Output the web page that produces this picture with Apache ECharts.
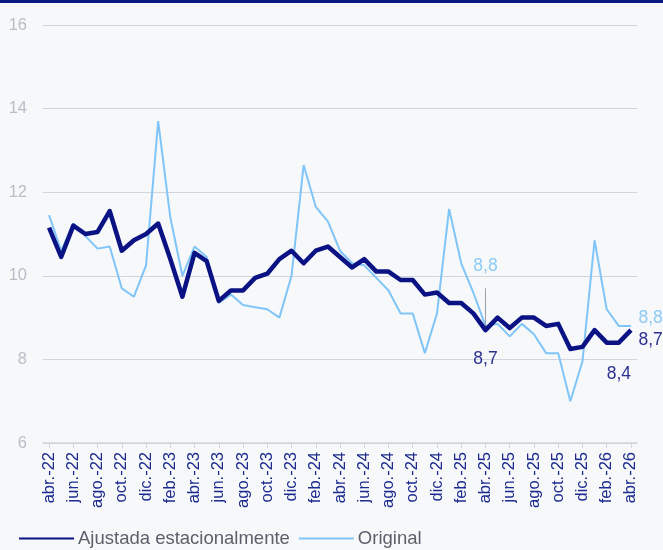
<!DOCTYPE html>
<html>
<head>
<meta charset="utf-8">
<script src="https://cdn.jsdelivr.net/npm/echarts@6/dist/echarts.min.js"></script>
<style>
  html, body { margin: 0; padding: 0; background: #f6f8fa; }
  #chart { width: 663px; height: 550px; }
</style>
</head>
<body>
<div id="chart"></div>
<script>
// meses (abr.-22 .. abr.-26)
const months = [
  "abr.-22", "may.-22", "jun.-22", "jul.-22", "ago.-22", "sep.-22", "oct.-22", "nov.-22", "dic.-22",
  "ene.-23", "feb.-23", "mar.-23", "abr.-23", "may.-23", "jun.-23", "jul.-23", "ago.-23", "sep.-23", "oct.-23", "nov.-23", "dic.-23",
  "ene.-24", "feb.-24", "mar.-24", "abr.-24", "may.-24", "jun.-24", "jul.-24", "ago.-24", "sep.-24", "oct.-24", "nov.-24", "dic.-24",
  "ene.-25", "feb.-25", "mar.-25", "abr.-25", "may.-25", "jun.-25", "jul.-25", "ago.-25", "sep.-25", "oct.-25", "nov.-25", "dic.-25",
  "ene.-26", "feb.-26", "mar.-26", "abr.-26"
];

const ajustada = [
  11.15, 10.45, 11.2, 11.0, 11.05, 11.55, 10.6, 10.85, 11.0,
  11.25, 10.4, 9.5, 10.55, 10.35, 9.4, 9.65, 9.65, 9.95, 10.05, 10.4, 10.6,
  10.3, 10.6, 10.7, 10.45, 10.2, 10.4, 10.1, 10.1, 9.9, 9.9, 9.55, 9.6,
  9.35, 9.35, 9.1, 8.7, 9.0, 8.75, 9.0, 9.0, 8.8, 8.85, 8.25, 8.3,
  8.7, 8.4, 8.4, 8.7
];

const original = [
  11.45, 10.6, 11.25, 10.95, 10.65, 10.7, 9.7, 9.5, 10.25,
  13.7, 11.4, 10.0, 10.7, 10.45, 9.35, 9.55, 9.3, 9.25, 9.2, 9.0, 10.0,
  12.65, 11.65, 11.3, 10.6, 10.3, 10.25, 9.95, 9.65, 9.1, 9.1, 8.15, 9.1,
  11.6, 10.3, 9.6, 8.8, 8.85, 8.55, 8.85, 8.6, 8.15, 8.15, 7.0, 7.95,
  10.85, 9.2, 8.8, 8.8
];

const yTicks = { min: 6, max: 16, step: 2 };

const darkColor = "#0b1283";
const lightColor = "#80c5f7";
const darkText = "#2c3190";
const lightText = "#8ecbf5";
const font = "Liberation Sans, Arial, sans-serif";

function fmt(v) {
  return v.toFixed(1).replace(".", ",");
}

const iAbr25 = months.indexOf("abr.-25");
const iMar26 = months.indexOf("mar.-26");
const iLast = months.length - 1;

// etiquetas de valor (posición relativa al punto)
function valueMarks(values, spec, color) {
  return {
    symbol: "circle",
    symbolSize: 1,
    silent: true,
    itemStyle: { color: "rgba(0,0,0,0)" },
    data: spec.map(s => ({
      coord: [s.i, values[s.i]],
      value: values[s.i],
      label: {
        show: true,
        color: color,
        fontSize: 17.5,
        fontFamily: font,
        formatter: fmt(values[s.i]),
        position: s.position,
        distance: s.distance,
        offset: s.offset || [0, 0]
      }
    }))
  };
}

const chart = echarts.init(document.getElementById("chart"));

chart.setOption({
  backgroundColor: "#f6f8fa",
  animation: false,
  graphic: [
    { type: "rect", left: 0, top: 0, shape: { width: 663, height: 3 }, style: { fill: "#0b1a80" } }
  ],
  grid: { left: 43, right: 26, top: 25, bottom: 107 },
  legend: {
    left: 13,
    top: 524,
    itemWidth: 55,
    itemHeight: 10,
    itemGap: 8,
    itemStyle: { opacity: 0 },
    textStyle: { color: "#5b606b", fontSize: 18.5, fontFamily: font, padding: [0, 0, 0, -1] },
    data: ["Ajustada estacionalmente", "Original"]
  },
  xAxis: {
    type: "category",
    data: months,
    boundaryGap: true,
    axisLine: { lineStyle: { color: "#d2d5dc", width: 1.5 } },
    axisTick: { show: true, alignWithLabel: true, interval: 1, length: 5, lineStyle: { color: "#d2d5dc" } },
    axisLabel: {
      interval: 1,
      rotate: 90,
      color: "#1d2b8e",
      fontSize: 16.5,
      fontFamily: font,
      margin: 9
    }
  },
  yAxis: {
    type: "value",
    min: yTicks.min,
    max: yTicks.max,
    interval: yTicks.step,
    axisLine: { show: false },
    axisTick: { show: false },
    axisLabel: { color: "#b9bdc6", fontSize: 16.5, fontFamily: font, margin: 16 },
    splitLine: { lineStyle: { color: "#d2d5dc", width: 1.2 } }
  },
  series: [
    {
      name: "Original",
      type: "line",
      data: original,
      symbol: "none",
      z: 2,
      lineStyle: { color: lightColor, width: 2 },
      itemStyle: { color: lightColor },
      markPoint: valueMarks(original, [
        { i: iAbr25, position: "top", distance: 50 },
        { i: iLast, position: "right", distance: 7, offset: [0, -8] }
      ], lightText),
      markLine: {
        silent: true,
        symbol: "none",
        label: { show: false },
        lineStyle: { color: "#9a9ea6", width: 1, type: "solid" },
        data: [[
          { coord: [iAbr25, original[iAbr25]] },
          { coord: [iAbr25, original[iAbr25] + 0.9] }
        ]]
      }
    },
    {
      name: "Ajustada estacionalmente",
      type: "line",
      data: ajustada,
      symbol: "none",
      z: 3,
      lineStyle: { color: darkColor, width: 4.5, join: "round" },
      itemStyle: { color: darkColor },
      markPoint: valueMarks(ajustada, [
        { i: iAbr25, position: "bottom", distance: 20 },
        { i: iMar26, position: "bottom", distance: 22 },
        { i: iLast, position: "right", distance: 7, offset: [0, 10] }
      ], darkText)
    }
  ]
});
</script>
</body>
</html>
